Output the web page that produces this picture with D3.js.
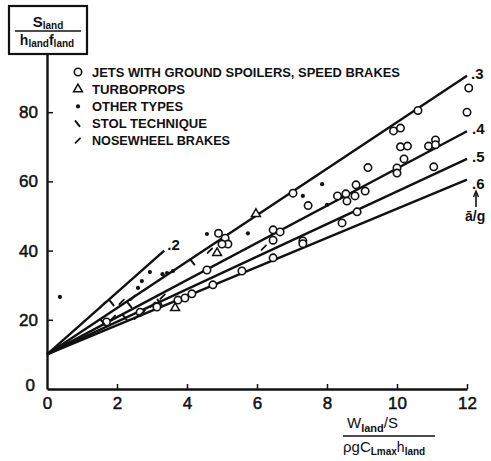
<!DOCTYPE html>
<html>
<head>
<meta charset="utf-8">
<script src="https://cdn.jsdelivr.net/npm/d3@7"></script>
<style>
  html, body { margin: 0; padding: 0; background: #fff; }
  svg { display: block; }
  text { font-family: "Liberation Sans", Arial, sans-serif; fill: #111; }
</style>
</head>
<body>
<div id="chart"></div>
<script>
// Landing distance parameter vs. wing-loading parameter, with lines of constant ā/g

// Observed aircraft, [x, y]
const jets = [
  [12.05, 87], [12.0, 80], [10.6, 80.5], [9.9, 74.6], [10.1, 75.4],
  [10.1, 70], [10.3, 70.2], [10.2, 66.5], [10.0, 63.9], [10.0, 62.4],
  [10.9, 70.2], [11.1, 72], [11.1, 70.6], [11.05, 64.2], [9.17, 64],
  [7.46, 53], [8.3, 55.8], [8.54, 56.4], [8.57, 54.3], [8.8, 55.8],
  [8.83, 59], [9.09, 57.2], [8.86, 51.2], [8.43, 48], [7.03, 56.6],
  [6.46, 46], [6.66, 45.4], [6.46, 43], [7.31, 42.8], [7.31, 42.0],
  [6.46, 37.9], [4.9, 45], [5.09, 43.6], [5.17, 41.9], [5.0, 41.9],
  [4.57, 34.4], [5.57, 34.1], [4.74, 30.1], [4.14, 27.5], [3.94, 26.3],
  [3.74, 25.7], [2.66, 22.2], [3.14, 23.7], [1.7, 19.4]
];
const turboprops = [[5.97, 50.6], [4.86, 39.3], [3.66, 23.4]];
const otherTypes = [
  [0.37, 26.6], [2.6, 29.2], [2.71, 31.2], [2.94, 33.8], [3.3, 33.2],
  [3.43, 33.5], [3.6, 34.1], [4.57, 44.8], [5.74, 45], [7.31, 55.8],
  [7.86, 59.2], [8.0, 53.2]
];
const stolTechnique = [
  [4.17, 36.7], [1.86, 24.9], [2.37, 24.3], [1.6, 19.4], [2.23, 20.8], [3.23, 25.1]
];
const nosewheelBrakes = [
  [4.66, 39.9], [6.2, 40.8], [2.14, 25.1], [2.46, 26.3], [1.6, 24.3],
  [1.89, 20.5], [2.57, 20.8], [2.74, 22], [3.03, 24.3], [3.31, 26.6]
];

// Lines of constant ā/g, all starting from the common intercept
const lineLabels = [".2", ".3", ".4", ".5", ".6"];
const lineEndX = [3.35, 12, 12, 12, 12];
const lineEndY = [40, 90.5, 74.5, 66.5, 60.5];
const lineIntercept = 10;

const xTicks = [0, 2, 4, 6, 8, 10, 12];
const yTicks = [0, 20, 40, 60, 80];

const legendLabels = [
  "JETS WITH GROUND SPOILERS, SPEED BRAKES",
  "TURBOPROPS",
  "OTHER TYPES",
  "STOL TECHNIQUE",
  "NOSEWHEEL BRAKES"
];

const W = 491, H = 461;
const svg = d3.select("#chart").append("svg").attr("width", W).attr("height", H);
svg.append("rect").attr("width", W).attr("height", H).attr("fill", "#fff");

const x = d3.scaleLinear().domain([0, 12]).range([47, 467]);
const y = d3.scaleLinear().domain([0, 100]).range([389, 43]);

// axes
const xAxis = svg.append("g").attr("transform", `translate(0,${y(0)})`)
  .call(d3.axisBottom(x).tickValues(xTicks).tickFormat(d3.format("d"))
    .tickSizeInner(-5).tickSizeOuter(0).tickPadding(8));
const yAxis = svg.append("g").attr("transform", `translate(${x(0)},0)`)
  .call(d3.axisLeft(y).tickValues(yTicks).tickFormat(d3.format("d"))
    .tickSizeInner(-6).tickSizeOuter(0).tickPadding(9));
[xAxis, yAxis].forEach(g => {
  g.select(".domain").attr("stroke", "#111").attr("stroke-width", 2.4);
  g.selectAll(".tick line").attr("stroke", "#111").attr("stroke-width", 1.5);
  g.selectAll(".tick text").attr("font-size", 17).attr("fill", "#111")
    .attr("stroke", "#111").attr("stroke-width", 0.5)
    .attr("font-family", "'Liberation Sans', Arial, sans-serif");
});
xAxis.selectAll(".tick line").filter(d => d === 0).remove();
yAxis.selectAll(".tick line").filter(d => d === 0).remove();
yAxis.selectAll(".tick text").filter(d => d === 0).attr("dy", "0.1em").attr("dx", -3);

// constant ā/g lines
const lineData = lineLabels.map((lab, i) => ({
  lab, pts: [[0, lineIntercept], [lineEndX[i], lineEndY[i]]]
}));
const lineGen = d3.line().x(d => x(d[0])).y(d => y(d[1]));
svg.append("g").selectAll("path").data(lineData).join("path")
  .attr("d", d => lineGen(d.pts))
  .attr("fill", "none").attr("stroke", "#111").attr("stroke-width", 2.4);

const labelNudge = [[3, -1], [4, 3], [5, 3], [5, 3], [5, 9]];
svg.append("g").selectAll("text").data(lineData).join("text")
  .attr("x", (d, i) => x(d.pts[1][0]) + labelNudge[i][0])
  .attr("y", (d, i) => y(d.pts[1][1]) + labelNudge[i][1])
  .attr("font-size", 15).attr("font-weight", "bold")
  .text(d => d.lab);

// ā/g pointer at the right edge
const arrowX = 476;
svg.append("line").attr("x1", arrowX).attr("x2", arrowX).attr("y1", 193).attr("y2", 207)
  .attr("stroke", "#111").attr("stroke-width", 1.6);
svg.append("path").attr("d", `M${arrowX - 2.5},197L${arrowX},191L${arrowX + 2.5},197`)
  .attr("fill", "none").attr("stroke", "#111").attr("stroke-width", 1.4);
svg.append("text").attr("x", 465).attr("y", 221).attr("font-size", 14)
  .attr("font-weight", "bold").text("ā/g");

// marker shapes
const tri = d3.symbol().type(d3.symbolTriangle).size(34);
function drawMarker(sel, kind) {
  if (kind === "circle") {
    sel.append("circle").attr("r", 3.7).attr("fill", "#fff")
      .attr("stroke", "#111").attr("stroke-width", 1.6);
  } else if (kind === "triangle") {
    sel.append("path").attr("d", tri()).attr("fill", "#fff")
      .attr("stroke", "#111").attr("stroke-width", 1.5);
  } else if (kind === "dot") {
    sel.append("circle").attr("r", 2.1).attr("fill", "#111");
  } else if (kind === "stol") {
    sel.append("path").attr("d", "M-2.5,-2.5L1.5,2.5").attr("stroke", "#111")
      .attr("stroke-width", 2).attr("stroke-linecap", "round");
  } else {
    sel.append("path").attr("d", "M-2.5,2L2,-2.5").attr("stroke", "#111")
      .attr("stroke-width", 1.8).attr("stroke-linecap", "round");
  }
}
const seriesList = [
  { data: jets, kind: "circle" },
  { data: turboprops, kind: "triangle" },
  { data: otherTypes, kind: "dot" },
  { data: stolTechnique, kind: "stol" },
  { data: nosewheelBrakes, kind: "nose" }
];
const marks = svg.append("g");
seriesList.forEach(s => {
  s.data.forEach(p => {
    const g = marks.append("g").attr("transform", `translate(${x(p[0])},${y(p[1])})`);
    drawMarker(g, s.kind);
  });
});

// legend
const legendWidths = [308, 93, 91, 115, 138];
const legend = svg.append("g");
legendLabels.forEach((lab, i) => {
  const cy = 72 + i * 17.2;
  const g = legend.append("g").attr("transform", `translate(78,${cy})`);
  drawMarker(g, seriesList[i].kind);
  legend.append("text").attr("x", 92).attr("y", cy + 4.6)
    .attr("font-size", 12).attr("font-weight", "bold")
    .attr("textLength", legendWidths[i]).attr("lengthAdjust", "spacingAndGlyphs")
    .text(lab);
});

// y-axis title box: S_land / (h_land f_land)
const box = svg.append("g");
box.append("rect").attr("x", 9).attr("y", 6).attr("width", 78).attr("height", 48)
  .attr("fill", "#fff").attr("stroke", "#111").attr("stroke-width", 2.2);
const num = box.append("text").attr("x", 48).attr("y", 27).attr("text-anchor", "middle");
num.append("tspan").attr("font-size", 15).attr("font-weight", "bold").text("S");
num.append("tspan").attr("font-size", 10).attr("font-weight", "bold").attr("dy", 2).text("land");
box.append("line").attr("x1", 15).attr("x2", 81).attr("y1", 31).attr("y2", 31)
  .attr("stroke", "#111").attr("stroke-width", 1.6);
const den = box.append("text").attr("x", 47).attr("y", 45).attr("text-anchor", "middle");
den.append("tspan").attr("font-size", 14).attr("font-weight", "bold").text("h");
den.append("tspan").attr("font-size", 10).attr("font-weight", "bold").attr("dy", 2).text("land");
den.append("tspan").attr("font-size", 14).attr("font-weight", "bold").attr("dy", -2).text("f");
den.append("tspan").attr("font-size", 10).attr("font-weight", "bold").attr("dy", 2).text("land");

// x-axis title: (W_land / S) / (ρ g C_Lmax h_land)
const xt = svg.append("g");
const xn = xt.append("text").attr("x", 347).attr("y", 428);
xn.append("tspan").attr("font-size", 15).text("W");
xn.append("tspan").attr("font-size", 11).attr("font-weight", "bold").attr("dy", 4).text("land");
xn.append("tspan").attr("font-size", 15).attr("dy", -4).text("/S");
xt.append("line").attr("x1", 343).attr("x2", 435).attr("y1", 436).attr("y2", 436)
  .attr("stroke", "#111").attr("stroke-width", 1.5);
const xd = xt.append("text").attr("x", 343).attr("y", 452);
xd.append("tspan").attr("font-size", 15).text("ρgC");
xd.append("tspan").attr("font-size", 10).attr("font-weight", "bold").attr("dy", 3).text("Lmax");
xd.append("tspan").attr("font-size", 14).attr("dy", -3).text("h");
xd.append("tspan").attr("font-size", 10).attr("font-weight", "bold").attr("dy", 3).text("land");
</script>
</body>
</html>
